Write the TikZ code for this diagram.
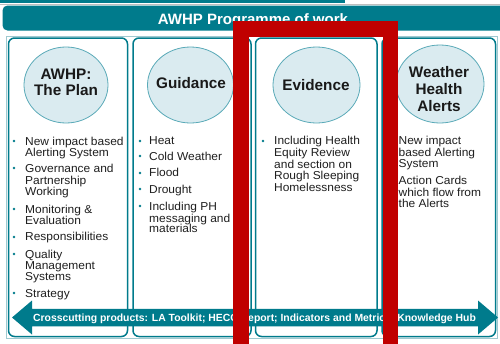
\documentclass[tikz,border=0pt]{standalone}
\usepackage{fontspec}
\setmainfont{Liberation Sans}
\newfontfamily\bodyfont{Liberation Sans}[FakeStretch=1.04]
\usetikzlibrary{shapes.geometric}
\definecolor{teal1}{HTML}{007B8C}
\definecolor{ellfill}{HTML}{DAEBF0}
\definecolor{elldraw}{HTML}{5AAAB8}
\definecolor{thinline}{HTML}{9FC9D0}
\definecolor{redframe}{HTML}{C00000}
\begin{document}
\begin{tikzpicture}[x=1pt,y=-1pt,
  bodytxt/.style={anchor=base west, inner sep=0pt, font=\bodyfont\fontsize{11.5}{11.6}\selectfont, text=black!88},
  lbl/.style={font=\bfseries\fontsize{15.3}{16.5}\selectfont, align=center, inner sep=0pt, text=black!90},
  colbox/.style={draw=teal1, line width=1.5pt, rounded corners=6pt, fill=white, inner sep=0pt},
  ell/.style={ellipse, draw=elldraw, fill=ellfill, line width=0.8pt, inner sep=0pt},
  bul/.style={fill=teal1}
]
\useasboundingbox (0,0) rectangle (500,343);
\clip (0,0) rectangle (500,343);
\fill[white] (0,0) rectangle (500,343);
% top strip
\draw[black!25, line width=0.6pt] (0,4.3) -- (500,4.3);
\fill[teal1] (0,0) rectangle (345,3);
% banner
\fill[teal1, rounded corners=5pt] (2.5,5.5) rectangle (508,30.5);
\node[anchor=base, inner sep=0pt, text=white, font=\bfseries\fontsize{15}{16}\selectfont] (title) at (253,24) {AWHP Programme of work};
% outer thin frame
\draw[thinline, line width=0.7pt] (6.5,36) rectangle (497.5,338.5);
% columns
\node[colbox, minimum width=119pt, minimum height=298.5pt] (c1) at (68,187.25) {};
\node[colbox, minimum width=118pt, minimum height=298.5pt] (c2) at (192,187.25) {};
\node[colbox, minimum width=121.5pt, minimum height=298.5pt] (c3) at (316.25,187.25) {};
\node[colbox, minimum width=113.5pt, minimum height=298.5pt] (c4) at (438.75,187.25) {};
% ellipses
\node[ell, minimum width=84pt, minimum height=76pt] (e1) at (66,85) {};
\node[ell, minimum width=86pt, minimum height=76pt] (e2) at (190.5,85) {};
\node[ell, minimum width=87pt, minimum height=76pt] (e3) at (316.5,85) {};
\node[ell, minimum width=88pt, minimum height=78pt] (e4) at (440,84) {};
\node[lbl] (l1) at (66,82.5) {AWHP:\\The Plan};
\node[lbl] (l2) at (191,83) {Guidance};
\node[lbl] (l3) at (316,85) {Evidence};
\node[lbl, font=\bfseries\fontsize{15.3}{17}\selectfont] (l4) at (439,89) {Weather\\Health\\Alerts};
% bullets
\foreach \bx/\by in {14/141,14/168,14/209,14/237,14/254,14/293,
                     140/141,140/156,140/173,140/189,140/206,
                     263/141}
  \fill[bul] (\bx,\by) circle (1.4pt);
% body text
\foreach \tx/\ty/\tt [count=\i] in {
  25/141/New impact based, 25/152.5/Alerting System,
  25/168.3/Governance and, 25/180.7/Partnership, 25/191.8/Working,
  25/209.3/Monitoring \&, 25/220.3/Evaluation,
  25/236.8/Responsibilities,
  25/254/Quality, 25/265.3/Management, 25/276.7/Systems,
  25/293.3/Strategy,
  149/140.7/Heat, 149/156/Cold Weather, 149/172.7/Flood, 149/189.3/Drought,
  149/206/Including PH, 149/218/messaging and, 149/228.8/materials,
  274/140.7/Including Health, 274/152.3/Equity Review, 274/164/and section on,
  274/175.7/Rough Sleeping/, 274/187.7/Homelessness,
  398.5/140.3/New impact, 398.5/152/based Alerting, 398.5/163.3/System,
  398.5/180.7/Action Cards, 398.5/192.3/which flow from, 398.5/203.5/the Alerts}
  \node[bodytxt] (t\i) at (\tx,\ty+4) {\tt};
% crosscutting arrow
\fill[teal1] (12,317.5) -- (32,300.5) -- (32,308.75) -- (478,308.75) -- (478,300.5)
  -- (498,317.5) -- (478,334.5) -- (478,326.25) -- (32,326.25) -- (32,334.5) -- cycle;
\node[anchor=base, inner sep=0pt, text=white, font=\bfseries\fontsize{10.4}{11}\selectfont] (arrtxt) at (254.5,321.2)
  {Crosscutting products: LA Toolkit; HECC Report; Indicators and Metrics; Knowledge Hub};
% red highlight frame
\draw[redframe, line width=15.5pt, line join=miter] (241,29) rectangle (390.5,420);
\end{tikzpicture}
\end{document}
